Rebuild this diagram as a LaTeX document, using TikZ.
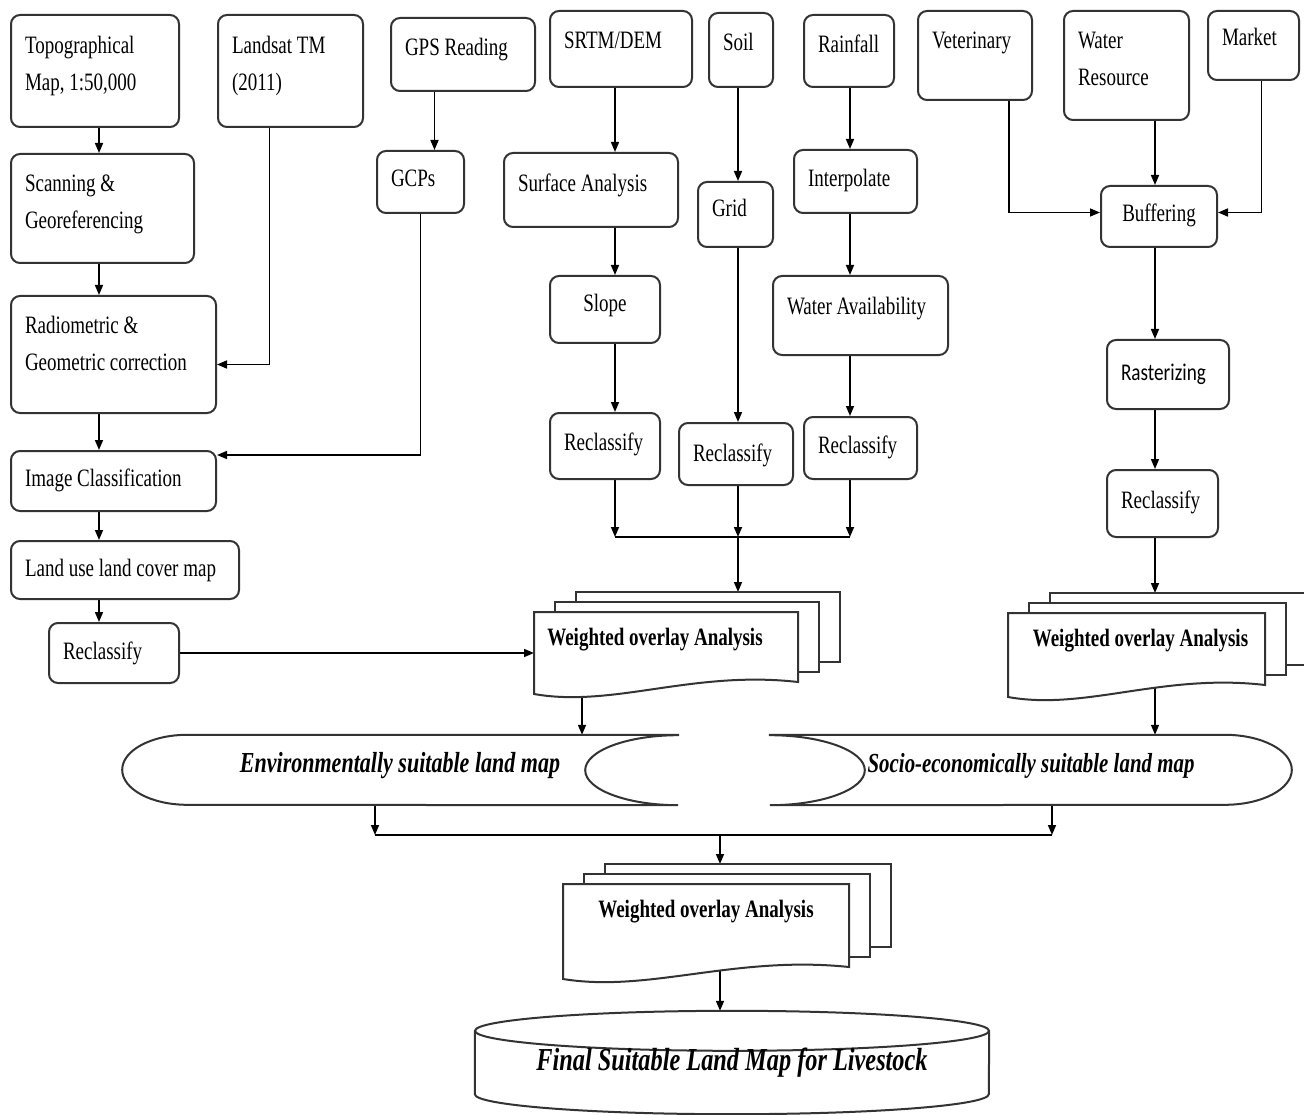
\documentclass[tikz,border=0pt]{standalone}
\usepackage{fontspec}
\setmainfont{Liberation Serif}
\newfontfamily\boxfont{Liberation Serif}[FakeStretch=0.76]
\newfontfamily\rastfont{Carlito}[FakeStretch=0.8]
\usetikzlibrary{arrows.meta,backgrounds,calc}
\definecolor{edgegray}{HTML}{333333}

\begin{document}
\begin{tikzpicture}[
        x=1pt, y=-1pt,
        box/.style={draw=edgegray, line width=2pt, rounded corners=9pt, fill=white,
            anchor=north west, align=flush left, inner xsep=14pt, inner ysep=4pt,
            font=\boxfont\fontsize{25}{37}\selectfont},
        one/.style={box, text height=17pt, text depth=#1},
        one/.default=7pt,
        arr/.style={-{Triangle[length=10pt, width=8pt]}, line width=1.6pt},
        link/.style={line width=1.6pt},
        docline/.style={draw=edgegray, line width=2pt, fill=white},
        doctext/.style={anchor=north, inner ysep=16pt, text height=17pt, text depth=6pt,
            font=\boxfont\bfseries\fontsize{25}{30}\selectfont},
        storedtext/.style={text height=19pt, text depth=15pt, font=\boxfont\bfseries\itshape\fontsize{#1}{34}\selectfont},
        storedtext/.default=29,
    ]
    \useasboundingbox (0,0) rectangle (1304,1115);

    % left branch: maps and imagery
    \node[one=51pt, text width=140, minimum height=112] (topo) at (10,14) {Topographical\\Map, 1:50,000};
    \node[one=51pt, text width=117, minimum height=112] (landsat) at (217,14) {Landsat TM\\(2011)};
    \node[one=14pt, text width=116, minimum height=73] (gps) at (390,17) {GPS Reading};
    \node[one=50pt, text width=155, minimum height=109] (scan) at (10,153) {Scanning \&\\Georeferencing};
    \node[one, text width=59, minimum height=62] (gcps) at (376,150) {GCPs};
    \node[one=58pt, text width=177, minimum height=117] (radio) at (10,295) {Radiometric \&\\Geometric correction};
    \node[one, text width=177, minimum height=60] (imgcls) at (10,450) {Image Classification};
    \node[one=5pt, text width=200, minimum height=58] (lulc) at (10,540) {Land use land cover map};
    \node[one=5pt, text width=102, minimum height=60] (reclL) at (48,622) {Reclassify};

    % middle branch: terrain, soil, rainfall
    \node[one=17pt, text width=114, minimum height=76] (srtm) at (549,10) {SRTM/DEM};
    \node[one=15pt, text width=36, minimum height=74] (soil) at (708,12) {Soil};
    \node[one=13pt, text width=62, minimum height=72] (rain) at (803,14) {Rainfall};
    \node[one=13pt, text width=146, minimum height=74] (surf) at (503,152) {Surface Analysis};
    \node[one=12pt, text width=47, minimum height=65] (grid) at (697,181) {Grid};
    \node[one=6pt, text width=95, minimum height=63] (interp) at (793,149) {Interpolate};
    \node[one=12pt, text width=82, minimum height=67, align=center] (slope) at (549,275) {Slope};
    \node[one=18pt, text width=147, minimum height=79] (water) at (772,275) {Water Availability};
    \node[one=9pt, text width=82, minimum height=66] (reclS) at (549,412) {Reclassify};
    \node[one=3pt, text width=86, minimum height=62] (reclG) at (678,422) {Reclassify};
    \node[one=7pt, text width=85, minimum height=62] (reclW) at (803,416) {Reclassify};

    % right branch: socio-economic factors
    \node[one=30pt, text width=86, minimum height=89] (vet) at (917,10) {Veterinary};
    \node[one=50pt, text width=97, minimum height=109] (wres) at (1063,10) {Water\\Resource};
    \node[one=16pt, text width=63, minimum height=69] (market) at (1207,10) {Market};
    \node[one=6pt, text width=88, minimum height=61, align=center] (buff) at (1100,185) {Buffering};
    \node[one=4pt, text width=94, minimum height=69, font=\rastfont\fontsize{24}{30}\selectfont] (rast) at (1106,339) {Rasterizing};
    \node[one=8pt, text width=83, minimum height=67] (reclR) at (1106,469) {Reclassify};

    % weighted overlays (stacked documents)
    \foreach \n/\x/\y/\w/\h/\dx in {woa1/534/612/264/70/-11, woa2/1008/613/257/72/4, woa3/563/884/286/83/0} {
        \draw[docline] (\x+42,\y-20) rectangle ++(\w,\h);
        \draw[docline] (\x+21,\y-10) rectangle ++(\w,\h);
        \draw[docline] (\x,\y) -- (\x+\w,\y) -- (\x+\w,\y+\h)
            .. controls (\x+0.6*\w,\y+\h-12) and (\x+0.3*\w,\y+\h+26) .. (\x,\y+\h+12) -- cycle;
        \node[doctext, minimum width=\w] (\n) at (\x+\w/2+\dx,\y) {Weighted overlay Analysis};
        \coordinate (\n-top) at (\x+42,\y-20);
        \coordinate (\n-left) at (\x,\y+\h/2);
    }

    % suitability maps
    \node[storedtext, minimum width=556, minimum height=70] (env) at (400,770) {Environmentally suitable land map};
    \node[storedtext=27.5, minimum width=522, minimum height=70] (socio) at (1031,770) {Socio-economically suitable land map};
    \node[font=\boxfont\bfseries\itshape\fontsize{32}{38}\selectfont, minimum width=514, minimum height=63] (final) at (732,1062.5) {Final Suitable Land Map for Livestock};

    \coordinate (lcol) at (99,0);
    \coordinate (colA) at (615,0);
    \coordinate (colB) at (738,0);
    \coordinate (colC) at (850,0);
    \coordinate (colR) at (1155,0);
    \coordinate (m1) at (738,537);
    \coordinate (m2) at (720,835);
    \coordinate (o1) at (582,650);
    \coordinate (e1) at ($(env.south)+(-25,0)$);
    \coordinate (s1) at ($(socio.south)+(21,0)$);
    \coordinate (final-top) at ($(final.north)+(0,-20)$);

    \begin{scope}[on background layer]
        % left
        \draw[arr] (lcol |- topo.south) -- (lcol |- scan.north);
        \draw[arr] (lcol |- scan.south) -- (lcol |- radio.north);
        \draw[arr] (lcol |- radio.south) -- (lcol |- imgcls.north);
        \draw[arr] (lcol |- imgcls.south) -- (lcol |- lulc.north);
        \draw[arr] (lcol |- lulc.south) -- (lcol |- reclL.north);
        \draw[arr] ($(landsat.south)+(-21,0)$) |- ($(radio.east)+(0,10)$);
        \draw[arr] ($(gcps.north |- gps.south)+(14,0)$) -- ($(gcps.north)+(14,0)$);
        \draw[arr] (gcps.south) |- ($(imgcls.east)+(0,-26)$);
        \draw[arr] (reclL.east) -- (reclL.east -| woa1-left);
        % middle
        \draw[arr] (colA |- srtm.south) -- (colA |- surf.north);
        \draw[arr] (colA |- surf.south) -- (colA |- slope.north);
        \draw[arr] (colA |- slope.south) -- (colA |- reclS.north);
        \draw[arr] (colB |- soil.south) -- (colB |- grid.north);
        \draw[arr] (colB |- grid.south) -- (colB |- reclG.north);
        \draw[arr] (colC |- rain.south) -- (colC |- interp.north);
        \draw[arr] (colC |- interp.south) -- (colC |- water.north);
        \draw[arr] (colC |- water.south) -- (colC |- reclW.north);
        \draw[arr] (colA |- reclS.south) -- (colA |- m1);
        \draw[arr] (colB |- reclG.south) -- (m1);
        \draw[arr] (colC |- reclW.south) -- (colC |- m1);
        \draw[link] (colA |- m1) -- (colC |- m1);
        \draw[arr] (m1) -- (m1 |- woa1-top);
        % right
        \draw[arr] ($(vet.south)+(34,0)$) |- ($(buff.west)+(0,-4)$);
        \draw[arr] (colR |- wres.south) -- (colR |- buff.north);
        \draw[arr] ($(market.south)+(8,0)$) |- ($(buff.east)+(0,-4)$);
        \draw[arr] (colR |- buff.south) -- (colR |- rast.north);
        \draw[arr] (colR |- rast.south) -- (colR |- reclR.north);
        \draw[arr] (colR |- reclR.south) -- (colR |- woa2-top);
        % bottom
        \draw[arr] (o1) -- (o1 |- env.north);
        \draw[arr] (colR |- woa2.west) -- (colR |- socio.north);
        \draw[arr] (e1) -- (e1 |- m2);
        \draw[arr] (s1) -- (s1 |- m2);
        \draw[link] (e1 |- m2) -- (s1 |- m2);
        \draw[arr] (m2) -- (m2 |- woa3-top);
        \draw[arr] (m2 |- woa3.west) -- (m2 |- final-top);

        \draw[docline] (env.north east) -- ++(-491,0) arc[start angle=90, end angle=270, x radius=65pt, y radius=35pt]
            -- (env.south east) arc[start angle=270, end angle=90, x radius=93pt, y radius=35pt] -- cycle;
        \draw[docline] (socio.north west) -- ++(455,0) arc[start angle=90, end angle=-90, x radius=67pt, y radius=35pt]
            -- (socio.south west) arc[start angle=-90, end angle=90, x radius=95pt, y radius=35pt] -- cycle;
        \draw[docline] (final.north west) -- (final.south west)
            arc[start angle=180, end angle=360, x radius=257pt, y radius=20pt] -- (final.north east);
        \draw[docline] (final.north) ellipse [x radius=257pt, y radius=20pt];
    \end{scope}
\end{tikzpicture}
\end{document}
